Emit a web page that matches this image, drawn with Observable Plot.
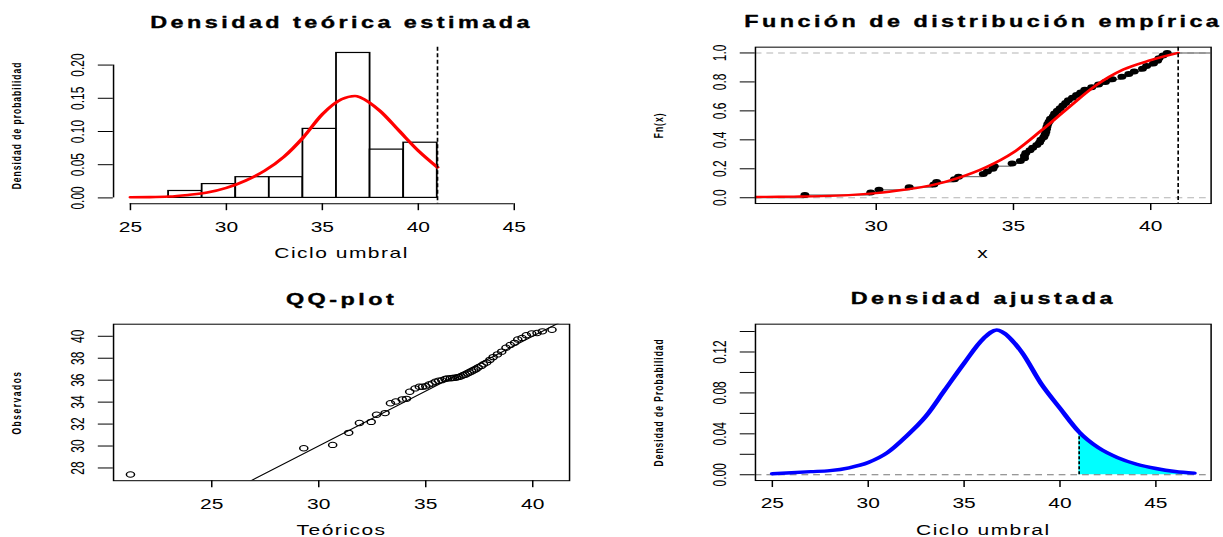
<!DOCTYPE html>
<html>
<head>
<meta charset="utf-8">
<script src="https://cdn.jsdelivr.net/npm/d3@7"></script>
<script src="https://cdn.jsdelivr.net/npm/@observablehq/plot@0.6"></script>
<style>
  html, body { margin: 0; padding: 0; background: #fff; overflow: hidden; width: 1223px; height: 537px; }
  #wrap { position: absolute; left: 0; top: 0; width: 856px; height: 537px; transform: scaleX(1.5); transform-origin: 0 0; }
  .panel { position: absolute; }
</style>
</head>
<body>
<div id="wrap">
  <div class="panel" id="p1" style="left:0;top:0"></div>
  <div class="panel" id="p2" style="left:428.33px;top:0"></div>
  <div class="panel" id="p3" style="left:0;top:277.3px"></div>
  <div class="panel" id="p4" style="left:428.33px;top:277.3px"></div>
</div>
<script>
// ---------------- DATA ----------------
// Panel 1: histogram (density) + fitted density (truncated at 41)
const histEdges = [27, 28.75, 30.5, 32.25, 34, 35.75, 37.5, 39.25, 41];
const histDensity = [0.0104, 0.0208, 0.0312, 0.0312, 0.1039, 0.2182, 0.0727, 0.0831];
const fitX = [25, 26, 27, 28, 29, 30, 31, 32, 33, 34, 35, 36, 36.7, 37, 38, 39, 40, 41];
const fitDens = [0.001, 0.0012, 0.002, 0.0045, 0.008, 0.015, 0.026, 0.041, 0.062, 0.091, 0.126, 0.1485, 0.1535, 0.151, 0.131, 0.101, 0.071, 0.046];
const cutoff = 41;

// Panels 2 & 3: sorted observations and theoretical quantiles
const obs = [27.4, 29.8, 30.1, 31.2, 32.1, 32.2, 32.85, 33.0, 33.9,
  34.05, 34.25, 34.3, 34.95, 35.25, 35.4, 35.4, 35.45, 35.6, 35.7,
  35.85, 35.95, 36.0, 36.1, 36.15, 36.18, 36.2, 36.22, 36.25, 36.3, 36.35, 36.45, 36.5, 36.6, 36.7, 36.8, 36.9, 37.0, 37.15, 37.3, 37.45,
  37.6, 37.85, 38.1, 38.35, 38.6, 38.95, 39.2,
  39.4, 39.7, 39.85, 40.1, 40.25, 40.3, 40.45, 40.6];
const theo = [21.2, 29.3, 30.65, 31.4, 31.9, 32.45, 32.7, 33.1, 33.35,
  33.6, 33.9, 34.1, 34.25, 34.5, 34.7, 34.85, 35.0, 35.15, 35.3,
  35.45, 35.6, 35.75, 35.9, 36.0, 36.15, 36.25, 36.35, 36.45, 36.55, 36.65, 36.75, 36.85, 36.95, 37.05, 37.15, 37.25, 37.35, 37.45, 37.6, 37.7,
  37.85, 38.0, 38.15, 38.35, 38.55, 38.75, 38.95,
  39.15, 39.3, 39.5, 39.7, 39.95, 40.2, 40.45, 40.9];
// fitted CDF (red)
const cdfX = [25, 26, 27, 28, 29, 30, 31, 32, 33, 34, 35, 36, 37, 38, 39, 40, 41];
const cdfY = [0.004, 0.006, 0.008, 0.011, 0.018, 0.032, 0.055, 0.085, 0.137, 0.21, 0.313, 0.462, 0.622, 0.775, 0.885, 0.95, 1.0];
const qqIntercept = 0, qqSlope = 1;

// Panel 4: fitted density
const densX = [25, 26, 27, 28, 29, 30, 31, 32, 33, 34, 35, 36, 36.7, 37, 38, 39, 40, 41, 42, 43, 44, 45, 46, 47];
const densY = [0.001, 0.002, 0.003, 0.004, 0.0068, 0.012, 0.0216, 0.0378, 0.057, 0.083, 0.109, 0.133, 0.1415, 0.1395, 0.120, 0.0895, 0.065, 0.0417, 0.0265, 0.0168, 0.0103, 0.0061, 0.0032, 0.0016];

// Text
const titles = ["Densidad teórica estimada", "Función de distribución empírica", "QQ-plot", "Densidad ajustada"];
const xLabels = ["Ciclo umbral", "x", "Teóricos", "Ciclo umbral"];
const yLabels = ["Densidad de probabilidad", "Fn(x)", "Observados", "Densidad de Probabilidad"];
const ticks1x = [25, 30, 35, 40, 45], ticks1y = [0, 0.05, 0.10, 0.15, 0.20];
const ticks2x = [30, 35, 40], ticks2y = [0, 0.2, 0.4, 0.6, 0.8, 1.0];
const ticks3x = [25, 30, 35, 40], ticks3y = [28, 30, 32, 34, 36, 38, 40];
const ticks4x = [25, 30, 35, 40, 45], ticks4y = [0, 0.02, 0.04, 0.06, 0.08, 0.10, 0.12, 0.14], labels4y = [0, 0.04, 0.08, 0.12];

// ---------------- LAYOUT ----------------
const FONT = "'Liberation Sans', Arial, Helvetica, sans-serif";
const base = {
  width: 428, height: 277,
  marginLeft: 75.2, marginRight: 48.8, marginTop: 46.7, marginBottom: 73.8,
  style: {fontFamily: FONT, color: "black", background: "transparent", overflow: "visible"}
};
const xAx = (ticks) => Plot.axisX({ticks, tickSize: 7, tickPadding: 11, fontSize: 14, label: null, tickFormat: d3.format("d")});
const yAx = (ticks, fmt, labelled) => Plot.axisY({ticks, tickSize: 10, tickPadding: 9.5, tickRotate: -90, fontSize: 12, label: null,
  tickFormat: d => (!labelled || labelled.some(v => Math.abs(v - d) < 1e-9)) ? fmt(d) : null});
const titleMark = (t) => Plot.text([t], {frameAnchor: "top", dy: -19.7, lineAnchor: "bottom", fontSize: 15.6, fontWeight: "bold", fill: "black", stroke: "black", strokeWidth: 0.35});
const xLabMark = (t) => Plot.text([t], {frameAnchor: "bottom", dy: 54.5, lineAnchor: "bottom", fontSize: 14});
const yLabMark = (t) => Plot.text([t], {frameAnchor: "left", textAnchor: "middle", dx: -61.7, rotate: -90, lineAnchor: "bottom", fontSize: 8.5, fontWeight: "bold"});

function spacing(svg, map) {
  svg.querySelectorAll("text").forEach(t => {
    const s = map[t.textContent];
    if (s != null) t.style.letterSpacing = s + "px";
  });
}

// ---- Panel 1
const bins = histDensity.map((d, i) => ({x1: histEdges[i], x2: histEdges[i + 1], y: d}));
const fit = fitX.map((x, i) => ({x, y: fitDens[i]}));
const dom1x = [24.12, 47.88], dom1y = [-0.00873, 0.2269];
const p1 = Plot.plot({
  ...base,
  x: {domain: dom1x, label: null, axis: null},
  y: {domain: dom1y, label: null, axis: null},
  marks: [
    Plot.rectY(bins, {x1: "x1", x2: "x2", y: "y", fill: "white", stroke: "black", strokeWidth: 1.2}),
    Plot.line(fit, {x: "x", y: "y", stroke: "#ff0000", strokeWidth: 2.6, curve: "monotone-x"}),
    Plot.ruleX([cutoff], {stroke: "black", strokeWidth: 1.1, strokeDasharray: "4,2.5"}),
    Plot.ruleX([dom1x[0]], {y1: ticks1y[0], y2: ticks1y[ticks1y.length - 1], stroke: "black"}),
    Plot.ruleY([dom1y[0]], {x1: ticks1x[0], x2: ticks1x[ticks1x.length - 1], stroke: "black"}),
    xAx(ticks1x),
    yAx(ticks1y, d3.format(".2f")),
    titleMark(titles[0]), xLabMark(xLabels[0]), yLabMark(yLabels[0])
  ]
});
document.getElementById("p1").appendChild(p1);

// ---- Panel 2
const dom2x = [25.6, 42.2], dom2y = [-0.04, 1.04];
const n = obs.length;
const ecdfPts = obs.map((x, i) => ({x, y: (i + 1) / n}));
const ecdfSegs = [{x1: dom2x[0], x2: obs[0], y: 0}].concat(
  obs.map((x, i) => ({x1: x, x2: i < n - 1 ? obs[i + 1] : dom2x[1], y: (i + 1) / n})));
const cdf = cdfX.map((x, i) => ({x, y: cdfY[i]}));
const p2 = Plot.plot({
  ...base,
  x: {domain: dom2x, label: null, axis: null},
  y: {domain: dom2y, label: null, axis: null},
  marks: [
    Plot.ruleY([0, 1], {stroke: "#b3b3b3", strokeDasharray: "4.5,3.3"}),
    Plot.ruleY(ecdfSegs, {x1: "x1", x2: "x2", y: "y", stroke: "#555", strokeWidth: 1}),
    Plot.dot(ecdfPts, {x: "x", y: "y", r: 3, fill: "black", stroke: "none"}),
    Plot.line(cdf, {x: "x", y: "y", stroke: "#ff0000", strokeWidth: 2.4, curve: "monotone-x", clip: true}),
    Plot.ruleX([cutoff], {stroke: "black", strokeWidth: 1.1, strokeDasharray: "4,2.5"}),
    Plot.frame({stroke: "black", strokeWidth: 1}),
    xAx(ticks2x),
    yAx(ticks2y, d3.format(".1f")),
    titleMark(titles[1]), xLabMark(xLabels[1]), yLabMark(yLabels[1])
  ]
});
document.getElementById("p2").appendChild(p2);

// ---- Panel 3
const dom3x = [20.41, 41.72], dom3y = [26.84, 41.1];
const qq = obs.map((o, i) => ({x: theo[i], y: o}));
const qqLine = dom3x.map(x => ({x, y: qqIntercept + qqSlope * x}));
const p3 = Plot.plot({
  ...base,
  x: {domain: dom3x, label: null, axis: null},
  y: {domain: dom3y, label: null, axis: null},
  marks: [
    Plot.line(qqLine, {x: "x", y: "y", stroke: "black", strokeWidth: 1, clip: true}),
    Plot.dot(qq, {x: "x", y: "y", r: 2.7, stroke: "black", fill: "none", strokeWidth: 1}),
    Plot.frame({stroke: "black", strokeWidth: 1}),
    xAx(ticks3x),
    yAx(ticks3y, d3.format("d")),
    titleMark(titles[2]), xLabMark(xLabels[2]), yLabMark(yLabels[2])
  ]
});
document.getElementById("p3").appendChild(p3);

// ---- Panel 4
const dom4x = [24.12, 47.88], dom4y = [-0.00566, 0.1472];
const dens = densX.map((x, i) => ({x, y: densY[i]}));
const tail = dens.filter(d => d.x >= cutoff);
const atCut = densY[densX.indexOf(cutoff)];
const p4 = Plot.plot({
  ...base,
  x: {domain: dom4x, label: null, axis: null},
  y: {domain: dom4y, label: null, axis: null},
  marks: [
    Plot.areaY(tail, {x: "x", y: "y", fill: "#00ffff", curve: "monotone-x"}),
    Plot.ruleY([0], {stroke: "#777", strokeDasharray: "4.5,3.3", strokeWidth: 1.1}),
    Plot.ruleX([cutoff], {y1: 0, y2: atCut, stroke: "black", strokeWidth: 1.1, strokeDasharray: "3,2"}),
    Plot.line(dens, {x: "x", y: "y", stroke: "#0000ff", strokeWidth: 3.4, curve: "monotone-x"}),
    Plot.frame({stroke: "black", strokeWidth: 1}),
    xAx(ticks4x),
    yAx(ticks4y, d3.format(".2f"), labels4y),
    titleMark(titles[3]), xLabMark(xLabels[3]), yLabMark(yLabels[3])
  ]
});
document.getElementById("p4").appendChild(p4);

const sp = {};
titles.forEach(t => sp[t] = 2.3);
xLabels.forEach(t => sp[t] = 1.0);
sp[yLabels[0]] = 1.0; sp[yLabels[1]] = 1.05; sp[yLabels[2]] = 1.5; sp[yLabels[3]] = 1.0;
[p1, p2, p3, p4].forEach(s => spacing(s, sp));
</script>
</body>
</html>
